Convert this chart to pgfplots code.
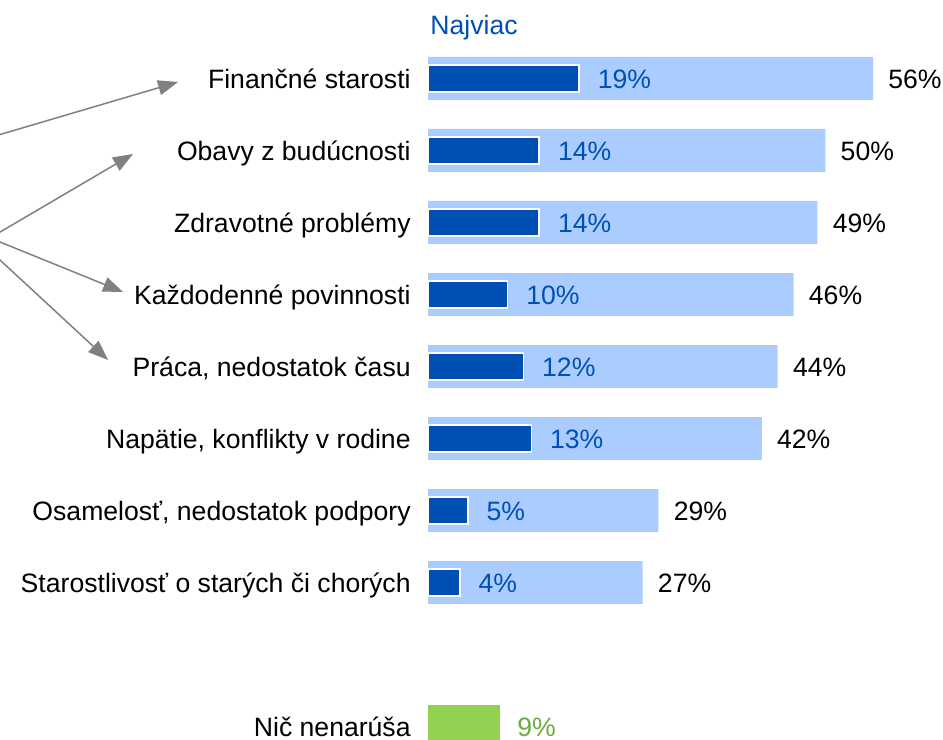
\documentclass[border=0pt]{standalone}
\usepackage{fontspec}
\setmainfont{Liberation Sans}
\usepackage{pgfplots}
\pgfplotsset{compat=1.18}
\usetikzlibrary{arrows.meta}
\definecolor{barlight}{HTML}{AACCFF}
\definecolor{bardark}{HTML}{0050B4}
\definecolor{bargreen}{HTML}{92D050}
\definecolor{txtgreen}{HTML}{6AAB3C}
\definecolor{arrowgray}{HTML}{808080}

% values in %, rows counted from the top
\pgfplotstableread{
row total top
0 56 19
1 50 14
2 49 14
3 46 10
4 44 12
5 42 13
6 29 5
7 27 4
}\maindata

\begin{document}
\begin{tikzpicture}[font=\fontsize{13.3}{16}\selectfont]
\begin{axis}[
  name=ax,
  width=471.5pt, height=370pt, scale only axis,
  hide axis, clip=true,
  xmin=-53.87, xmax=64.81,
  ymin=-1.090, ymax=9.1875, y dir=reverse,
  enlargelimits=false,
  /pgf/number format/assume math mode=true,
  point meta=x,
  nodes near coords={\pgfmathprintnumber{\pgfplotspointmeta}\%},
  every node near coord/.append style={anchor=base west, yshift=-4.76pt, inner xsep=0pt,
    font=\fontsize{13.3}{16}\selectfont},
]
\addplot[xbar, bar shift=0pt, bar width=0.597, fill=barlight, draw=none,
  every node near coord/.append style={xshift=7.5pt, text=black}]
  table[x=total, y=row] {\maindata};
\addplot[xbar, bar shift=0pt, bar width=0.38, fill=bardark, draw=white, line width=0.8pt,
  every node near coord/.append style={xshift=9pt, text=bardark}]
  table[x=top, y=row] {\maindata};
\addplot[xbar, bar shift=0pt, bar width=0.597, fill=bargreen, draw=none,
  every node near coord/.append style={xshift=8.7pt, text=txtgreen}]
  coordinates {(9,9)};

\begin{scope}[every node/.style={anchor=base east, inner xsep=0pt, xshift=-8.5pt, yshift=-4.76pt}]
\node at (axis cs:0,0) {Finančné starosti};
\node at (axis cs:0,1) {Obavy z budúcnosti};
\node at (axis cs:0,2) {Zdravotné problémy};
\node at (axis cs:0,3) {Každodenné povinnosti};
\node at (axis cs:0,4) {Práca, nedostatok času};
\node at (axis cs:0,5) {Napätie, konflikty v rodine};
\node at (axis cs:0,6) {Osamelosť, nedostatok podpory};
\node at (axis cs:0,7) {Starostlivosť o starých či chorých};
\node at (axis cs:0,9) {Nič nenarúša};
\end{scope}
\node[anchor=base west, yshift=-4.76pt, text=bardark, inner xsep=0pt, xshift=1pt] at (axis cs:0,-0.743) {Najviac};

\begin{scope}[arrowgray, line width=0.75pt, -{Triangle[length=10pt,width=7.5pt]}]
\draw (axis cs:-54.5,0.799) -- (axis cs:-31.46,0.049);
\draw (axis cs:-54.5,2.174) -- (axis cs:-37.13,1.049);
\draw (axis cs:-54.5,2.243) -- (axis cs:-38.38,2.965);
\draw (axis cs:-54.5,2.457) -- (axis cs:-40.27,3.910);
\end{scope}
\end{axis}
\pgfresetboundingbox
\path[use as bounding box] (ax.south west) rectangle (ax.north east);
\end{tikzpicture}
\end{document}
